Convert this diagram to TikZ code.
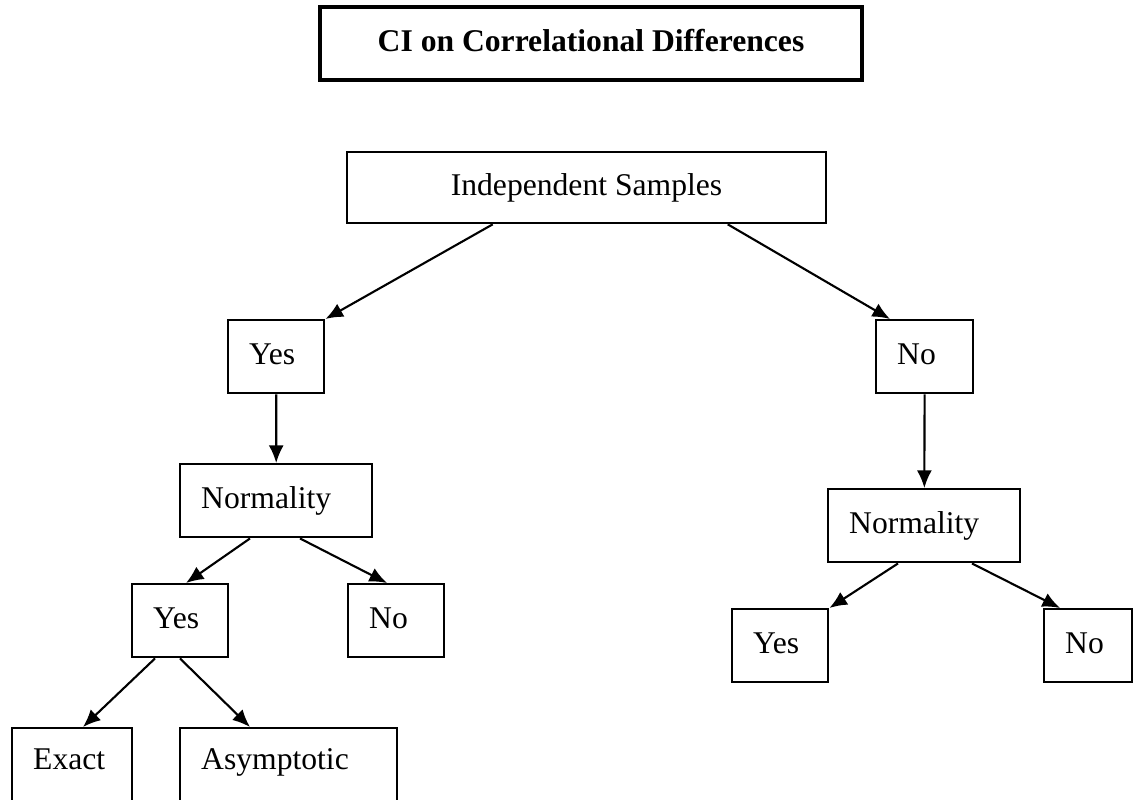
\documentclass[tikz,border=0pt]{standalone}
\usepackage{fontspec}
\setmainfont{Liberation Serif}
\usetikzlibrary{calc,arrows.meta}

\begin{document}
\begin{tikzpicture}
		[   x=0.02cm, y=-0.02cm,
			qbox/.style={draw=black,line width=1.4pt,anchor=north west,align=left,inner xsep=0.42cm,inner ysep=0pt,minimum height=1.46cm,text width=#1,text height=12.6pt,text depth=4pt,font=\fontsize{18}{22}\selectfont},
			headbox/.style={draw=black,line width=1.5pt,align=center,minimum height=#1,text height=12.6pt,text depth=4pt,font=\fontsize{18}{22}\selectfont},
		]
		\tikzset{normal arrow/.style={draw,line width=1.2pt,-{Latex[length=10pt,width=8.5pt]}}}
		\useasboundingbox (0,0) rectangle (1133,799);
		
		\node[headbox=1.46cm,minimum width=10.84cm,line width=1.8pt,font={\fontsize{18}{22}\selectfont\bfseries}] (title) at (591,43.5) {CI on Correlational Differences};
		
		\node[headbox=1.42cm,minimum width=9.58cm] (indep) at (586.5,187.5) {Independent Samples};
		
		\node[qbox=1.08cm] (yes-1) at (227,319) {Yes};
		\node[qbox=1.10cm] (no-1) at (875,319) {No};
		
		\node[qbox=3.00cm] (norm-1) at (179,463) {Normality};
		\node[qbox=3.00cm] (norm-2) at (827,488) {Normality};
		
		\node[qbox=1.08cm] (yes-2) at (131,583) {Yes};
		\node[qbox=1.08cm] (no-2) at (347,583) {No};
		\node[qbox=1.08cm] (yes-3) at (731,608) {Yes};
		\node[qbox=0.92cm] (no-3) at (1043,608) {No};
		
		\node[qbox=1.56cm,minimum height=1.6cm,text depth=11.3pt] (exact) at (11,727) {Exact};
		\node[qbox=3.50cm,minimum height=1.6cm,text depth=11.3pt] (asym) at (179,727) {Asymptotic};
		
		
		\path[normal arrow] ($(indep.south west)+(147,0)$) -- (yes-1.north east);
		\path[normal arrow] ($(indep.south west)+(382,0)$) -- ($(no-1.north west)+(15,0)$);
		
		\path[normal arrow] (yes-1) -- (norm-1);
		\path[normal arrow] (no-1) -- (norm-2);
		
		\path[normal arrow] ($(norm-1.south west)+(71,0)$) -- ($(yes-2.north west)+(55,0)$);
		\path[normal arrow] ($(norm-1.south west)+(121,0)$) -- ($(no-2.north west)+(40,0)$);
		\path[normal arrow] ($(norm-2.south west)+(71,0)$) -- (yes-3.north east);
		\path[normal arrow] ($(norm-2.south west)+(145,0)$) -- ($(no-3.north west)+(17,0)$);
		
		\foreach \s/\t/\d in {24/exact/72,49/asym/71}
		{
			\path[normal arrow] ($(yes-2.south west)+(\s,0)$) -- ($(\t.north west)+(\d,0)$);
		}
		
\end{tikzpicture}
\end{document}
